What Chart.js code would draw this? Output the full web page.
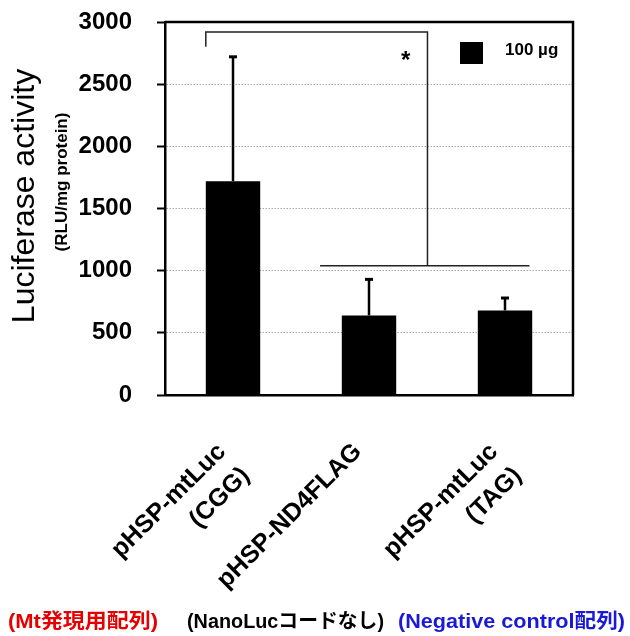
<!DOCTYPE html>
<html>
<head>
<meta charset="utf-8">
<script src="https://cdn.jsdelivr.net/npm/chart.js@4.4.0/dist/chart.umd.min.js"></script>
<style>
  html, body { margin: 0; padding: 0; background: #fff; }
  #wrap { width: 630px; height: 636px; }
</style>
</head>
<body>
<div id="wrap"><canvas id="chart"></canvas></div>
<script>
// data
const categories = [["pHSP-mtLuc", "(CGG)"], "pHSP-ND4FLAG", ["pHSP-mtLuc", "(TAG)"]];
const values = [1720, 640, 680];
const errors = [1000, 290, 100];
const yTicks = [0, 500, 1000, 1500, 2000, 2500, 3000];
const seriesLabel = "100 µg";
const notes = ["(Mt発現用配列)", "(NanoLucコードなし)", "(Negative control配列)"];
const noteColors = ["#e60000", "#000000", "#1a1ad6"];
// significance bracket, [category index, value]
const bracketTop = [[-0.2, 2800], [-0.2, 2920], [1.43, 2920], [1.43, 1040]];
const bracketBase = [[0.64, 1040], [2.18, 1040]];
const starAt = [1.27, 2680];

const FONT = "'Liberation Sans', Arial, 'Noto Sans CJK JP', sans-serif";

function catX(xs, idx) {
  const a = xs.getPixelForValue(0), b = xs.getPixelForValue(1);
  return a + idx * (b - a);
}

const extras = {
  id: "extras",
  afterDatasetsDraw(chart) {
    const ctx = chart.ctx;
    const x = chart.scales.x, y = chart.scales.y;
    const area = chart.chartArea;
    ctx.save();

    // error bars (upper only)
    ctx.strokeStyle = "#000";
    values.forEach((v, i) => {
      const px = x.getPixelForValue(i);
      const top = y.getPixelForValue(v + errors[i]);
      ctx.lineWidth = 2.5;
      ctx.beginPath();
      ctx.moveTo(px, y.getPixelForValue(v));
      ctx.lineTo(px, top);
      ctx.stroke();
      ctx.lineWidth = 3;
      ctx.beginPath();
      ctx.moveTo(px - 4, top);
      ctx.lineTo(px + 4, top);
      ctx.stroke();
    });

    // bracket
    ctx.lineWidth = 1.5;
    ctx.strokeStyle = "#222";
    [bracketTop, bracketBase].forEach(path => {
      ctx.beginPath();
      path.forEach((p, k) => {
        const px = catX(x, p[0]), py = y.getPixelForValue(p[1]);
        if (k === 0) ctx.moveTo(px, py); else ctx.lineTo(px, py);
      });
      ctx.stroke();
    });
    ctx.fillStyle = "#000";
    ctx.font = "bold 24px " + FONT;
    ctx.textAlign = "center";
    ctx.textBaseline = "middle";
    ctx.fillText("*", catX(x, starAt[0]), y.getPixelForValue(starAt[1]));

    // frame: top and right sides
    ctx.strokeStyle = "#000";
    ctx.lineWidth = 2.5;
    ctx.beginPath();
    ctx.moveTo(area.left, area.top);
    ctx.lineTo(area.right, area.top);
    ctx.lineTo(area.right, area.bottom);
    ctx.stroke();

    // legend
    ctx.fillStyle = "#000";
    ctx.fillRect(area.right - 113, area.top + 20, 23, 22);
    ctx.font = "bold 17px " + FONT;
    ctx.textAlign = "left";
    ctx.textBaseline = "middle";
    ctx.fillText(seriesLabel, area.right - 68, area.top + 28);

    // y title
    ctx.save();
    ctx.translate(25, 196);
    ctx.rotate(-Math.PI / 2);
    ctx.font = "32px " + FONT;
    ctx.textAlign = "center";
    ctx.textBaseline = "middle";
    ctx.fillText("Luciferase activity", 0, 0);
    ctx.restore();
    ctx.save();
    ctx.translate(62, 182);
    ctx.rotate(-Math.PI / 2);
    ctx.font = "bold 17px " + FONT;
    ctx.textAlign = "center";
    ctx.textBaseline = "middle";
    ctx.fillText("(RLU/mg protein)", 0, 0);
    ctx.restore();

    // notes under the chart, stretched to the reference widths
    ctx.font = "bold 20px " + FONT;
    ctx.textAlign = "left";
    ctx.textBaseline = "middle";
    const noteX = [8, 187, 398];
    const noteW = [150, 197, 227];
    notes.forEach((t, i) => {
      const w = ctx.measureText(t).width;
      ctx.save();
      ctx.translate(noteX[i], 622);
      ctx.scale(noteW[i] / w, 1);
      ctx.fillStyle = noteColors[i];
      ctx.fillText(t, 0, 0);
      ctx.restore();
    });
    ctx.restore();
  }
};

new Chart(document.getElementById("chart"), {
  type: "bar",
  data: {
    labels: categories,
    datasets: [{
      label: seriesLabel,
      data: values,
      backgroundColor: "#000",
      barPercentage: 0.4,
      categoryPercentage: 1.0
    }]
  },
  options: {
    responsive: true,
    maintainAspectRatio: false,
    animation: false,
    layout: { padding: { left: 0, right: 57, top: 22, bottom: 0 } },
    plugins: {
      legend: { display: false },
      tooltip: { enabled: false }
    },
    scales: {
      x: {
        grid: { display: false },
        border: { display: true, color: "#000", width: 2.5 },
        ticks: {
          color: "#000",
          font: { family: FONT, size: 25, weight: "bold", lineHeight: 1.35 },
          minRotation: 45,
          maxRotation: 45,
          padding: 33,
          labelOffset: -11
        },
        afterFit(scale) { scale.height = 241; }
      },
      y: {
        min: 0,
        max: 3000,
        afterBuildTicks(scale) { scale.ticks = yTicks.map(v => ({ value: v })); },
        grid: {
          color: "#a8a8a8",
          lineWidth: 1,
          tickColor: "#000",
          tickWidth: 2,
          tickLength: 8,
          tickBorderDash: []
        },
        border: { display: true, color: "#000", width: 2.5, dash: [1.5, 1.5] },
        ticks: {
          color: "#000",
          font: { family: FONT, size: 24, weight: "bold" },
          padding: 25,
          callback: v => String(v)
        },
        afterFit(scale) {
          scale.width = 165;
          scale.paddingTop = 0;
          scale.paddingBottom = 0;
        }
      }
    }
  },
  plugins: [extras]
});
</script>
</body>
</html>
